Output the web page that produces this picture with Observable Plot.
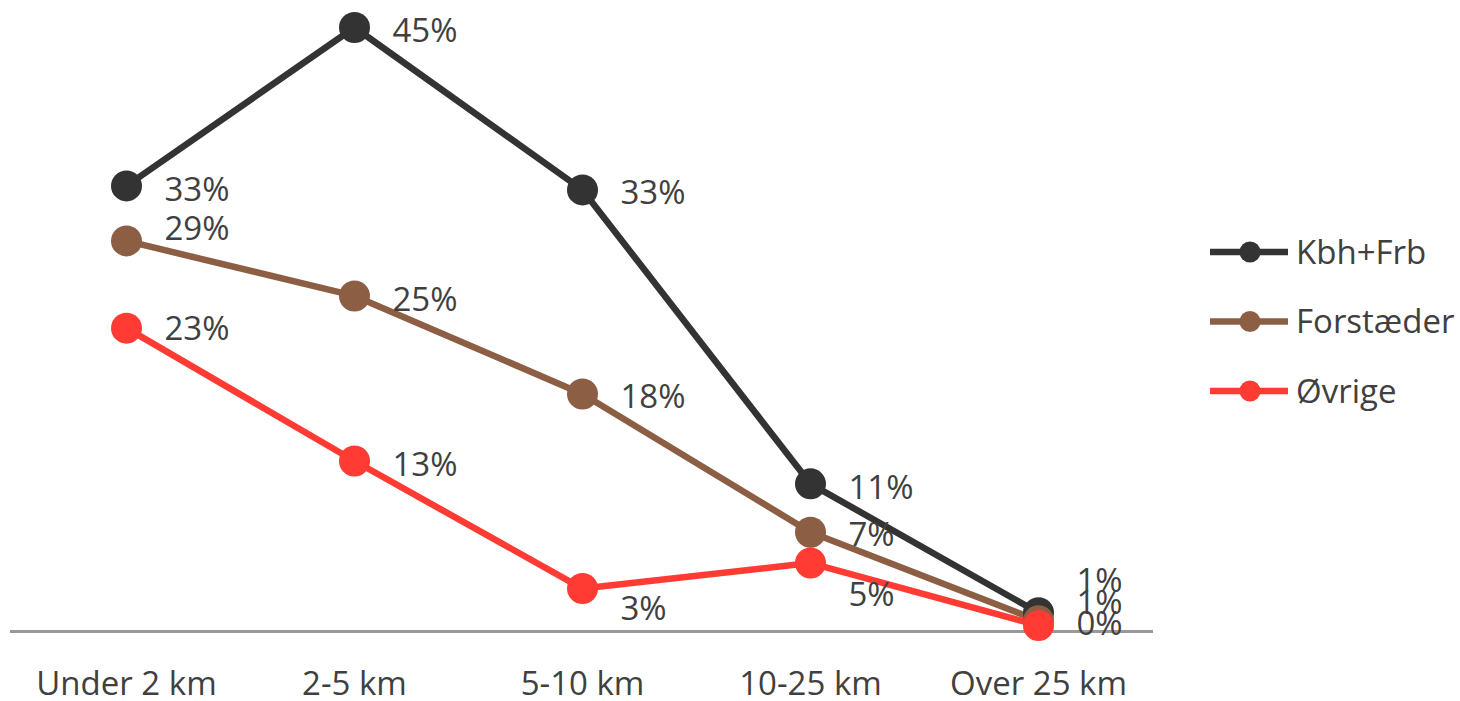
<!DOCTYPE html>
<html>
<head>
<meta charset="utf-8">
<script src="https://cdn.jsdelivr.net/npm/d3@7"></script>
<script src="https://cdn.jsdelivr.net/npm/@observablehq/plot@0.6"></script>
<style>
  html, body { margin: 0; padding: 0; background: #fff; }
  #wrap { position: relative; width: 1460px; height: 701px; overflow: hidden; }
  #legend { position: absolute; left: 1190px; top: 220px; }
</style>
</head>
<body>
<div id="wrap"></div>
<script>
// ---- data ----
const categories = ["Under 2 km", "2-5 km", "5-10 km", "10-25 km", "Over 25 km"];
const seriesNames = ["Kbh+Frb", "Forstæder", "Øvrige"];
const kbhFrb    = [33.2, 45.0, 32.9, 11.0, 1.4];
const forstaeder = [29.1, 25.0, 17.7, 7.4, 0.8];
const ovrige    = [22.6, 12.7, 3.2, 5.1, 0.45];
const seriesColors = ["#333333", "#8c5f45", "#ff3b33"];

const seriesValues = [kbhFrb, forstaeder, ovrige];
const data = [];
seriesNames.forEach((s, i) => {
  categories.forEach((c, j) => {
    data.push({series: s, cat: c, value: seriesValues[i][j]});
  });
});

// label vertical nudges (layout only, mimicking Excel's label placement)
const labelNudge = {
  "Kbh+Frb|Under 2 km": 5,
  "Forstæder|Under 2 km": -11,
  "Øvrige|Under 2 km": 1,
  "Øvrige|5-10 km": 21,
  "Kbh+Frb|10-25 km": 5,
  "Forstæder|10-25 km": 3,
  "Øvrige|10-25 km": 32,
  "Kbh+Frb|Over 25 km": -31,
  "Forstæder|Over 25 km": -17,
  "Øvrige|Over 25 km": -1
};
const nudgeOf = d => labelNudge[d.series + "|" + d.cat] ?? 4;
const nudges = Array.from(new Set(data.map(nudgeOf)));

const labelMarks = nudges.map(n =>
  Plot.text(data.filter(d => nudgeOf(d) === n), {
    x: "cat", y: "value",
    text: d => Math.round(d.value) + "%",
    dx: 38, dy: n,
    textAnchor: "start",
    fontSize: 33,
    fill: "#404040"
  })
);

const chart = Plot.plot({
  width: 1460,
  height: 701,
  marginLeft: 10,
  marginRight: 307,
  marginTop: 27,
  marginBottom: 70,
  style: {fontFamily: "'Open Sans', sans-serif", fontSize: "33px", color: "#404040", background: "#fff"},
  x: {type: "point", domain: categories, padding: 0.5, label: null, tickSize: 0, tickPadding: 40},
  y: {domain: [0, 45], axis: null},
  color: {domain: seriesNames, range: seriesColors},
  marks: [
    Plot.ruleY([0], {stroke: "#999999", strokeWidth: 3}),
    ...seriesNames.map(s =>
      Plot.line(data.filter(d => d.series === s), {x: "cat", y: "value", stroke: "series", strokeWidth: 6.5, strokeLinejoin: "round"})
    ),
    ...seriesNames.map(s =>
      Plot.dot(data.filter(d => d.series === s), {x: "cat", y: "value", fill: "series", r: 15.5})
    ),
    ...labelMarks
  ]
});
const wrap = document.getElementById("wrap");
wrap.appendChild(chart);

// ---- legend ----
const leg = d3.select(wrap).append("svg")
  .attr("id", "legend")
  .attr("width", 270).attr("height", 200)
  .style("font-family", "'Open Sans', sans-serif");
seriesNames.forEach((s, i) => {
  const y = 32 + i * 69.5;
  const g = leg.append("g");
  g.append("line").attr("x1", 20).attr("x2", 98).attr("y1", y).attr("y2", y)
    .attr("stroke", seriesColors[i]).attr("stroke-width", 6.5);
  g.append("circle").attr("cx", 60).attr("cy", y).attr("r", 10.5).attr("fill", seriesColors[i]);
  g.append("text").attr("x", 106).attr("y", y).attr("dy", "0.35em")
    .attr("font-size", 33).attr("fill", "#404040").text(s);
});
</script>
</body>
</html>
